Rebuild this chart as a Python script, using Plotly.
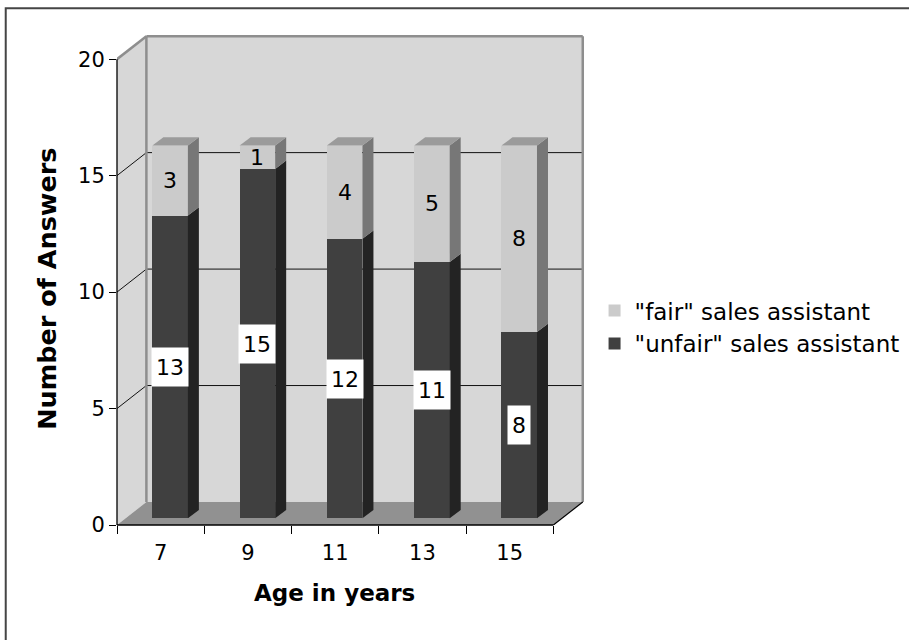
import plotly.graph_objects as go

# ---------------- data ----------------
ages = ["7", "9", "11", "13", "15"]
unfair = [13, 15, 12, 11, 8]
fair = [3, 1, 4, 5, 8]
y_ticks = [0, 5, 10, 15, 20]
y_max = 20
name_fair = '"fair" sales assistant'
name_unfair = '"unfair" sales assistant'
x_title = "Age in years"
y_title = "Number of Answers"

# ---------------- style / geometry ----------------
W_FIG, H_FIG = 909, 640
AX_LEFT = 117.3      # pixel x of front y-axis
AX_ZERO = 525.0      # pixel y of front value 0
CAT_PX = 87.3        # pixels per category
UNIT_PX = 23.3       # pixels per value unit
WALL_DX, WALL_DY = 29.4, 23.0    # depth of the 3-D box (px)
BAR_DX, BAR_DY = 9.5, 6.7        # offset of bar front plane (px)
DEPTH_DX, DEPTH_DY = 11.0, 8.3   # depth of each bar (px)
BAR_W = 0.407

C_UNFAIR, C_UNFAIR_SIDE = "#404040", "#232323"
C_FAIR, C_FAIR_SIDE = "#cbcbcb", "#777777"
C_TOP = "#9b9b9b"
C_WALL, C_FLOOR, C_EDGE = "#d7d7d7", "#919191", "#8e8e8e"
FONT = "DejaVu Sans"

n = len(ages)
xs = list(range(n))
wdx, wdy = WALL_DX / CAT_PX, WALL_DY / UNIT_PX
bdx, bdy = BAR_DX / CAT_PX, BAR_DY / UNIT_PX
ddx, ddy = DEPTH_DX / CAT_PX, DEPTH_DY / UNIT_PX

x0, x1 = -0.5, n - 0.5
xr = [x0, x1 + wdx + 0.06]
yr = [0, y_max + wdy + 0.35]
plot_w = (xr[1] - xr[0]) * CAT_PX
plot_h = (yr[1] - yr[0]) * UNIT_PX
m_l = AX_LEFT
m_b = H_FIG - AX_ZERO
m_r = W_FIG - m_l - plot_w
m_t = H_FIG - m_b - plot_h


def px_x(p):
    return (p - m_l) / plot_w


def px_y(p):
    return (H_FIG - m_b - p) / plot_h


def poly(pts):
    return "M " + " L ".join(f"{a:.5f},{b:.5f}" for a, b in pts) + " Z"


shapes = []
# walls and floor
shapes.append(dict(type="path", xref="x", yref="y", layer="below", line_width=0, fillcolor=C_WALL,
                   path=poly([(x0, 0), (x0, y_max), (x0 + wdx, y_max + wdy), (x0 + wdx, wdy)])))
shapes.append(dict(type="path", xref="x", yref="y", layer="below", line_width=0, fillcolor=C_WALL,
                   path=poly([(x0 + wdx, wdy), (x0 + wdx, y_max + wdy), (x1 + wdx, y_max + wdy), (x1 + wdx, wdy)])))
shapes.append(dict(type="path", xref="x", yref="y", layer="below", line_width=0, fillcolor=C_FLOOR,
                   path=poly([(x0, 0), (x1, 0), (x1 + wdx, wdy), (x0 + wdx, wdy)])))
# gridlines
for v in y_ticks[1:-1]:
    shapes.append(dict(type="line", xref="x", yref="y", layer="below", line=dict(color="#111111", width=1),
                       x0=x0 + wdx, x1=x1 + wdx, y0=v + wdy, y1=v + wdy))
    shapes.append(dict(type="line", xref="x", yref="y", layer="below", line=dict(color="#111111", width=1),
                       x0=x0, x1=x0 + wdx, y0=v, y1=v + wdy))
# wall edges
for (ax0, ay0, ax1, ay1) in [
    (x0, y_max, x0 + wdx, y_max + wdy),
    (x0 + wdx, y_max + wdy, x1 + wdx, y_max + wdy),
    (x0 + wdx, wdy, x0 + wdx, y_max + wdy),
    (x1 + wdx, wdy, x1 + wdx, y_max + wdy),
]:
    shapes.append(dict(type="line", xref="x", yref="y", layer="below", line=dict(color=C_EDGE, width=2.5),
                       x0=ax0, y0=ay0, x1=ax1, y1=ay1))
# floor right edge + axis lines
shapes.append(dict(type="line", xref="x", yref="y", layer="above", line=dict(color="black", width=1.2),
                   x0=x1, y0=0, x1=x1 + wdx, y1=wdy))
shapes.append(dict(type="line", xref="x", yref="paper", layer="above", line=dict(color="black", width=1.3),
                   x0=x0, y0=0, x1=x1, y1=0))
shapes.append(dict(type="line", xref="paper", yref="y", layer="above", line=dict(color="black", width=1.3),
                   x0=0, y0=0, x1=0, y1=y_max))

# 3-D faces of bars (on bar axes x2/y2)
for i in xs:
    cum = 0
    for v, side in [(unfair[i], C_UNFAIR_SIDE), (fair[i], C_FAIR_SIDE)]:
        ya, yb = cum, cum + v
        xa = i + BAR_W / 2
        shapes.append(dict(type="path", xref="x2", yref="y2", layer="above", line_width=0, fillcolor=side,
                           path=poly([(xa, ya), (xa + ddx, ya + ddy), (xa + ddx, yb + ddy), (xa, yb)])))
        cum = yb
    shapes.append(dict(type="path", xref="x2", yref="y2", layer="above", line_width=0, fillcolor=C_TOP,
                       path=poly([(i - BAR_W / 2, cum), (i + BAR_W / 2, cum),
                                  (i + BAR_W / 2 + ddx, cum + ddy), (i - BAR_W / 2 + ddx, cum + ddy)])))

# border of chart area
shapes.append(dict(type="rect", xref="paper", yref="paper", layer="above", line=dict(color="#454545", width=2),
                   fillcolor="rgba(0,0,0,0)", x0=px_x(6), x1=px_x(W_FIG + 30), y0=px_y(H_FIG + 30), y1=px_y(8)))

fig = go.Figure()
fig.add_trace(go.Scatter(x=[0], y=[0], mode="markers", marker=dict(opacity=0), showlegend=False,
                         hoverinfo="skip", xaxis="x", yaxis="y"))
fig.add_trace(go.Bar(x=xs, y=unfair, width=BAR_W, name=name_unfair, legendgroup="u", legendrank=2,
                     marker=dict(color=C_UNFAIR, line_width=0), xaxis="x2", yaxis="y2",
                     customdata=ages, hovertemplate="Age %{customdata}: %{y}<extra></extra>"))
fig.add_trace(go.Bar(x=xs, y=fair, width=BAR_W, name=name_fair, legendgroup="f", legendrank=1,
                     marker=dict(color=C_FAIR, line_width=0), xaxis="x2", yaxis="y2",
                     customdata=ages, hovertemplate="Age %{customdata}: %{y}<extra></extra>"))

annotations = []
for i in xs:
    annotations.append(dict(xref="x2", yref="y2", x=i, y=unfair[i] / 2, text=str(unfair[i]), showarrow=False,
                            font=dict(family=FONT, size=22, color="black"), bgcolor="white",
                            borderpad=4, height=30))
    annotations.append(dict(xref="x2", yref="y2", x=i, y=unfair[i] + fair[i] / 2, text=str(fair[i]),
                            showarrow=False, font=dict(family=FONT, size=22, color="black")))
annotations.append(dict(xref="paper", yref="paper", x=px_x(334.5), y=px_y(593), text=f"<b>{x_title}</b>",
                        xanchor="center", yanchor="middle",
                        showarrow=False, font=dict(family=FONT, size=23, color="black")))
annotations.append(dict(xref="paper", yref="paper", x=px_x(47), y=px_y(289), text=f"<b>{y_title}</b>",
                        xanchor="center", yanchor="middle",
                        textangle=-90, showarrow=False, font=dict(family=FONT, size=25.5, color="black")))

fig.update_layout(
    width=W_FIG, height=H_FIG,
    margin=dict(l=m_l, r=m_r, t=m_t, b=m_b, pad=0, autoexpand=False),
    paper_bgcolor="white", plot_bgcolor="rgba(0,0,0,0)",
    barmode="stack", bargap=0,
    font=dict(family=FONT, size=21, color="black"),
    xaxis=dict(range=xr, tickvals=xs, ticktext=ages, ticks="", showgrid=False, zeroline=False,
               showline=False, fixedrange=True, tickfont=dict(size=21), ticklabelstandoff=13,
               automargin=False,
               minor=dict(tickvals=[x + 0.5 for x in [-1] + xs], ticks="outside", ticklen=8,
                          tickcolor="black", tickwidth=1, showgrid=False)),
    yaxis=dict(range=yr, tickvals=y_ticks, ticks="outside", ticklen=7, tickcolor="black", tickwidth=1,
               showgrid=False, zeroline=False, showline=False, fixedrange=True, tickfont=dict(size=21),
               automargin=False),
    xaxis2=dict(range=[xr[0] - bdx, xr[1] - bdx], overlaying="x", visible=False, fixedrange=True),
    yaxis2=dict(range=[yr[0] - bdy, yr[1] - bdy], overlaying="y", visible=False, fixedrange=True),
    legend=dict(x=px_x(595), y=px_y(289), xanchor="left", yanchor="top", traceorder="normal",
                tracegroupgap=5, font=dict(family=FONT, size=23, color="black"), bgcolor="rgba(0,0,0,0)"),
    shapes=shapes, annotations=annotations,
)

fig.write_html("out.html")
